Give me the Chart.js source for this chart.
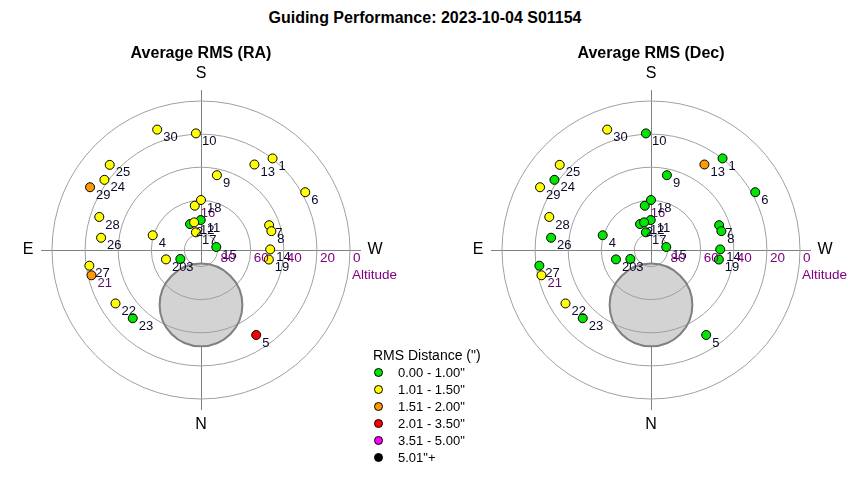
<!DOCTYPE html>
<html>
<head>
<meta charset="utf-8">
<script src="https://cdn.jsdelivr.net/npm/chart.js@4/dist/chart.umd.min.js"></script>
<style>
  body { margin: 0; background: #fff; font-family: "Liberation Sans", Arial, sans-serif; }
  #wrap { position: relative; width: 850px; height: 480px; overflow: hidden; }
  canvas { position: absolute; top: 0; }
  #title { position: absolute; top: 9px; left: 0; width: 850px; text-align: center; font-weight: bold; font-size: 16px; color: #000; }
  #legend { position: absolute; left: 373px; top: 347px; font-size: 13px; color: #000; }
  #legend .hd { font-size: 14px; margin-bottom: 1px; }
  #legend .row { height: 17px; line-height: 17px; position: relative; padding-left: 25px; }
  #legend .dot { position: absolute; left: 1px; top: 4px; width: 9px; height: 9px; border-radius: 50%; border: 1px solid #000; box-sizing: border-box; }
</style>
</head>
<body>
<div id="wrap">
  <div id="title">Guiding Performance: 2023-10-04 S01154</div>
  <canvas id="raChart" width="425" height="480" style="left:0"></canvas>
  <canvas id="decChart" width="425" height="480" style="left:425px"></canvas>
  <div id="legend"></div>
</div>
<script>
(function() {

  // numero de cada guiado
  const frameIds = [1, 2, 3, 4, 5, 6, 7, 8, 9, 10, 11, 12, 13, 14, 15, 16, 17, 18, 19, 20, 21, 22, 23, 24, 25, 26, 27, 28, 29, 30];

  // azimut (grados, N=0, E=90) y altitud (grados)
  const azimuth = [218, 157, 66.5, 107, 327, 241, 250, 255, 192, 177.5, 179.5, 166, 212, 269.5, 259, 172, 164, 180, 278, 75, 77, 58, 45, 126, 133, 97, 82, 108, 119.5, 160];
  const altitude = [19.8, 73, 76.4, 59.5, 28.8, 18, 46.2, 46, 43.8, 19.5, 71.9, 72.8, 29.1, 48.2, 80.6, 63, 78.9, 59.8, 48.6, 68.1, 22.1, 29.1, 31.7, 17.9, 14.6, 29.2, 21.9, 25.4, 13, 12.6];

  // clase de RMS (indice en rmsClasses) para RA y Dec
  const raClass = [1, 0, 0, 1, 3, 1, 1, 1, 1, 1, 0, 1, 1, 1, 0, 1, 1, 1, 1, 1, 2, 1, 0, 1, 1, 1, 1, 1, 2, 1];
  const decClass = [0, 0, 0, 0, 0, 0, 0, 0, 0, 0, 0, 0, 2, 0, 0, 0, 0, 0, 0, 0, 1, 1, 0, 0, 1, 0, 0, 1, 1, 1];

  // etiquetas con otro color
  const purpleLabels = [16, 21];

  const rmsClasses = ['0.00 - 1.00"', '1.01 - 1.50"', '1.51 - 2.00"', '2.01 - 3.50"', '3.51 - 5.00"', '5.01"+'];
  const rmsColors = ['#00e600', '#ffff00', '#ff9900', '#ff0000', '#ff00ff', '#000000'];

  // anillos de altitud
  const ringAltitudes = [80, 60, 40, 20, 0];
  // zona gris (centro en az/alt y radio en grados)
  const zoneAz = 0, zoneAlt = 56.8, zoneRadius = 25;

  const pxPerDeg = 149 / 90;
  const span = 100;

  function toXY(az, alt) {
    const z = 90 - alt;
    const a = az * Math.PI / 180;
    return { x: -z * Math.sin(a), y: -z * Math.cos(a) };
  }

  const polarPlugin = {
    id: 'polarGrid',
    beforeDatasetsDraw(chart) {
      const ctx = chart.ctx;
      const xs = chart.scales.x, ys = chart.scales.y;
      const cx = xs.getPixelForValue(0), cy = ys.getPixelForValue(0);
      const k = xs.getPixelForValue(1) - cx;
      ctx.save();
      // ejes
      ctx.strokeStyle = '#808080';
      ctx.lineWidth = 1;
      const L = 96.6 * k;
      ctx.beginPath();
      ctx.moveTo(cx - L, cy + 0.5); ctx.lineTo(cx + L, cy + 0.5);
      ctx.moveTo(cx + 0.5, cy - L); ctx.lineTo(cx + 0.5, cy + L);
      ctx.stroke();
      // zona gris
      const zc = toXY(zoneAz, zoneAlt);
      const zx = xs.getPixelForValue(zc.x), zy = ys.getPixelForValue(zc.y);
      ctx.beginPath();
      ctx.arc(zx, zy, zoneRadius * k, 0, Math.PI * 2);
      ctx.fillStyle = '#d3d3d3';
      ctx.fill();
      // anillos
      ctx.strokeStyle = '#a0a0a0';
      ctx.lineWidth = 1;
      ringAltitudes.forEach(alt => {
        ctx.beginPath();
        ctx.arc(cx, cy, (90 - alt) * k, 0, Math.PI * 2);
        ctx.stroke();
      });
      ctx.beginPath();
      ctx.arc(zx, zy, zoneRadius * k, 0, Math.PI * 2);
      ctx.strokeStyle = '#808080';
      ctx.lineWidth = 2;
      ctx.stroke();
      // textos
      ctx.fillStyle = '#000';
      ctx.font = '16px "Liberation Sans", Arial, sans-serif';
      ctx.textAlign = 'center';
      ctx.textBaseline = 'middle';
      ctx.fillText('S', cx, cy - 176);
      ctx.fillText('N', cx, cy + 175);
      ctx.fillText('E', cx - 173, cy);
      ctx.fillText('W', cx + 174, cy);
      ctx.font = 'bold 16px "Liberation Sans", Arial, sans-serif';
      ctx.fillText(chart.options.plugins.polarGrid.title, cx, cy - 196);
      ctx.restore();
    },
    afterDatasetsDraw(chart) {
      const ctx = chart.ctx;
      const xs = chart.scales.x, ys = chart.scales.y;
      const cx = xs.getPixelForValue(0), cy = ys.getPixelForValue(0);
      const k = xs.getPixelForValue(1) - cx;
      const meta = chart.getDatasetMeta(0);
      ctx.save();
      ctx.font = '13px "Liberation Sans", Arial, sans-serif';
      ctx.textAlign = 'left';
      ctx.textBaseline = 'middle';
      meta.data.forEach((pt, i) => {
        const id = frameIds[i];
        ctx.fillStyle = purpleLabels.includes(id) ? '#5a1060' : '#0a0a28';
        ctx.fillText(String(id), pt.x + 6, pt.y + 8);
      });
      ctx.fillStyle = '#800080';
      ctx.font = '13.5px "Liberation Sans", Arial, sans-serif';
      ctx.textBaseline = 'top';
      ringAltitudes.forEach(alt => {
        ctx.fillText(String(alt), cx + (90 - alt) * k + 3, cy + 2);
      });
      ctx.textBaseline = 'middle';
      ctx.fillText('Altitude', cx + 151, cy + 25);
      ctx.restore();
    }
  };

  function makePlot(id, title, classes, centerX) {
    const W = 425, H = 480, cy = 250;
    const half = span * pxPerDeg;
    new Chart(document.getElementById(id), {
      type: 'scatter',
      data: {
        datasets: [{
          data: frameIds.map((f, i) => toXY(azimuth[i], altitude[i])),
          pointBackgroundColor: classes.map(c => rmsColors[c]),
          pointBorderColor: '#000',
          pointBorderWidth: 1,
          pointRadius: 4.5,
          pointHoverRadius: 4.5
        }]
      },
      options: {
        responsive: false,
        animation: false,
        layout: {
          padding: {
            left: centerX - half,
            right: W - centerX - half,
            top: cy - half,
            bottom: H - cy - half
          }
        },
        scales: {
          x: { type: 'linear', min: -span, max: span, display: false },
          y: { type: 'linear', min: -span, max: span, display: false }
        },
        plugins: {
          legend: { display: false },
          tooltip: { enabled: false },
          polarGrid: { title: title }
        }
      },
      plugins: [polarPlugin]
    });
  }

  makePlot('raChart', 'Average RMS (RA)', raClass, 201);
  makePlot('decChart', 'Average RMS (Dec)', decClass, 226);

  // leyenda
  const legend = document.getElementById('legend');
  legend.innerHTML = '<div class="hd">RMS Distance (")</div>' +
    rmsClasses.map((t, i) => '<div class="row"><span class="dot" style="background:' + rmsColors[i] + '"></span>' + t + '</div>').join('');
})();
</script>
</body>
</html>
